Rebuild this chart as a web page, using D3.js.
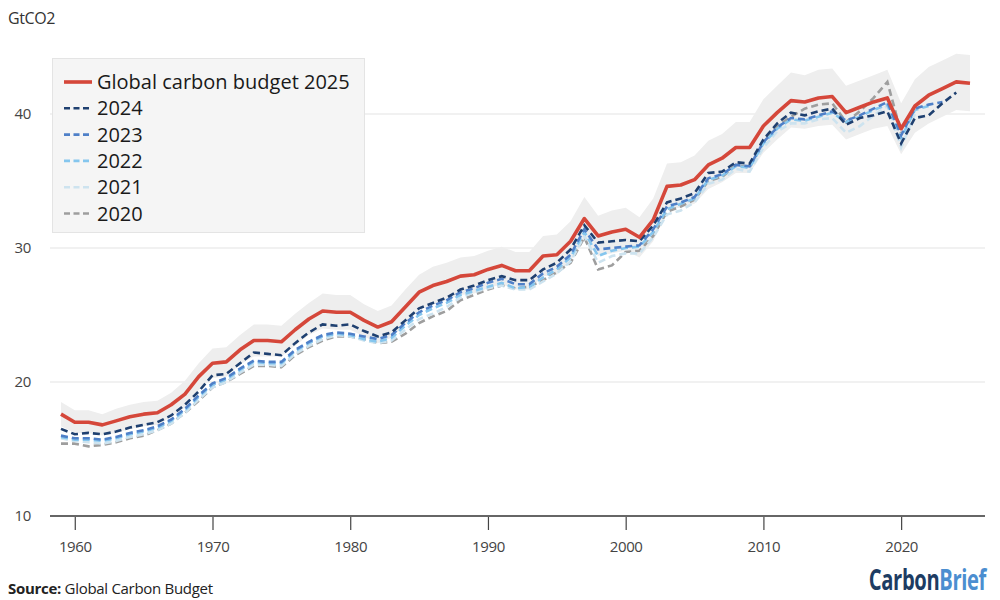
<!DOCTYPE html>
<html>
<head>
<meta charset="utf-8">
<style>
  body { margin: 0; background: #fff; }
  svg { display: block; font-family: "Open Sans", sans-serif; }
</style>
</head>
<body>
<svg width="1000" height="600"></svg>
<script src="https://cdn.jsdelivr.net/npm/d3@7.9.0/dist/d3.min.js"></script>
<script>
// years on the x axis, 1959 -> 2025
const years = d3.range(1959, 2026);
const xTicks = [1960, 1970, 1980, 1990, 2000, 2010, 2020];
const yTicks = [10, 20, 30, 40];

// GtCO2
const gcb2025 = [17.6,
  17.0, 17.0, 16.8, 17.1, 17.4, 17.6, 17.7, 18.3, 19.1, 20.4,
  21.4, 21.5, 22.4, 23.1, 23.1, 23.0, 23.9, 24.7, 25.3, 25.2,
  25.2, 24.6, 24.1, 24.5, 25.6, 26.7, 27.2, 27.5, 27.9, 28.0,
  28.4, 28.7, 28.3, 28.3, 29.4, 29.5, 30.5, 32.2, 30.9, 31.2,
  31.4, 30.8, 32.1, 34.6, 34.7, 35.1, 36.2, 36.7, 37.5, 37.5,
  39.1, 40.1, 41.0, 40.9, 41.2, 41.3, 40.1, 40.5, 40.9, 41.2,
  38.9, 40.6, 41.4, 41.9, 42.4, 42.3];

// uncertainty band round the 2025 figures
const bandHigh = [18.5,
  17.9, 17.9, 17.6, 18.0, 18.3, 18.5, 18.6, 19.2, 20.1, 21.4,
  22.5, 22.6, 23.5, 24.3, 24.3, 24.2, 25.1, 25.9, 26.6, 26.5,
  26.5, 25.8, 25.3, 25.7, 26.9, 28.0, 28.6, 28.9, 29.3, 29.4,
  29.8, 30.1, 29.7, 29.7, 30.9, 31.0, 32.0, 33.8, 32.4, 32.8,
  33.0, 32.3, 33.7, 36.3, 36.4, 36.9, 38.0, 38.5, 39.4, 39.4,
  41.1, 42.1, 43.1, 42.9, 43.3, 43.4, 42.1, 42.5, 42.9, 43.3,
  40.8, 42.6, 43.5, 44.0, 44.5, 44.4];
const bandLow = [16.7,
  16.2, 16.2, 16.0, 16.2, 16.5, 16.7, 16.8, 17.4, 18.1, 19.4,
  20.3, 20.4, 21.3, 21.9, 21.9, 21.9, 22.7, 23.5, 24.0, 23.9,
  23.9, 23.4, 22.9, 23.3, 24.3, 25.4, 25.8, 26.1, 26.5, 26.6,
  27.0, 27.3, 26.9, 26.9, 27.9, 28.0, 29.0, 30.6, 29.4, 29.6,
  29.8, 29.3, 30.5, 32.9, 33.0, 33.3, 34.4, 34.9, 35.6, 35.6,
  37.1, 38.1, 39.0, 38.9, 39.1, 39.2, 38.1, 38.5, 38.9, 39.1,
  37.0, 38.6, 39.3, 39.8, 40.3, 40.2];

// earlier editions, each ends at its own year
const gcb2024 = [16.5,
  16.1, 16.2, 16.1, 16.3, 16.6, 16.8, 17.0, 17.5, 18.3, 19.3,
  20.5, 20.6, 21.4, 22.2, 22.1, 22.0, 22.9, 23.7, 24.3, 24.2,
  24.3, 23.8, 23.4, 23.7, 24.6, 25.5, 25.9, 26.3, 26.9, 27.2,
  27.6, 27.9, 27.6, 27.6, 28.4, 28.9, 29.9, 31.7, 30.4, 30.5,
  30.6, 30.5, 31.7, 33.4, 33.7, 34.1, 35.6, 35.7, 36.4, 36.3,
  38.1, 39.3, 40.1, 39.9, 40.2, 40.4, 39.2, 39.7, 39.9, 40.2,
  37.8, 39.7, 39.9, 40.8, 41.6];
const gcb2023 = [16.0,
  15.8, 15.8, 15.7, 15.9, 16.2, 16.4, 16.7, 17.2, 18.0, 19.0,
  19.9, 20.3, 21.0, 21.6, 21.5, 21.5, 22.4, 23.0, 23.5, 23.7,
  23.6, 23.4, 23.2, 23.5, 24.4, 25.2, 25.7, 26.1, 26.7, 27.0,
  27.4, 27.7, 27.3, 27.3, 28.1, 28.6, 29.5, 31.4, 29.9, 30.0,
  30.1, 30.2, 31.4, 33.1, 33.4, 33.8, 35.2, 35.5, 36.2, 36.1,
  37.9, 39.0, 39.7, 39.6, 39.9, 40.2, 39.5, 39.9, 40.4, 40.9,
  38.4, 40.4, 40.7, 40.9];
const gcb2022 = [15.9,
  15.7, 15.7, 15.6, 15.8, 16.1, 16.3, 16.6, 17.1, 17.9, 18.9,
  19.8, 20.2, 20.9, 21.5, 21.4, 21.4, 22.3, 22.9, 23.4, 23.6,
  23.5, 23.2, 23.0, 23.3, 24.2, 25.0, 25.5, 25.9, 26.5, 26.8,
  27.1, 27.4, 27.0, 27.1, 27.8, 28.4, 29.3, 31.2, 29.4, 29.8,
  30.0, 30.1, 31.2, 32.9, 33.3, 33.7, 35.1, 35.4, 36.1, 36.0,
  37.8, 38.9, 39.6, 39.5, 39.8, 40.1, 39.4, 39.8, 40.3, 40.7,
  38.2, 40.3, 40.6];
const gcb2021 = [15.8,
  15.6, 15.5, 15.4, 15.6, 15.9, 16.1, 16.4, 16.9, 17.7, 18.7,
  19.6, 20.0, 20.7, 21.3, 21.3, 21.2, 22.1, 22.7, 23.2, 23.5,
  23.4, 23.1, 22.9, 23.1, 23.9, 24.7, 25.1, 25.6, 26.3, 26.7,
  27.0, 27.2, 26.9, 26.9, 27.5, 28.1, 29.0, 30.9, 28.9, 29.4,
  29.6, 29.6, 30.8, 32.5, 32.8, 33.4, 34.8, 35.1, 35.9, 35.7,
  37.5, 38.7, 39.3, 39.3, 39.6, 39.7, 38.6, 39.1, 39.9, 40.6,
  37.5, 40.0];
const gcb2020 = [15.4,
  15.4, 15.2, 15.3, 15.5, 15.8, 16.0, 16.4, 16.9, 17.7, 18.6,
  19.6, 20.0, 20.6, 21.2, 21.2, 21.1, 22.0, 22.6, 23.1, 23.4,
  23.4, 23.2, 22.9, 23.0, 23.6, 24.4, 24.9, 25.3, 26.1, 26.5,
  26.9, 27.2, 27.0, 27.1, 27.6, 28.2, 28.9, 30.8, 28.4, 28.7,
  29.7, 29.8, 30.9, 32.7, 33.1, 33.6, 35.0, 35.3, 36.2, 36.0,
  38.0, 39.1, 39.8, 40.4, 40.7, 40.8, 39.4, 40.2, 41.2, 42.4,
  38.6];

const legendLabels = ['Global carbon budget 2025', '2024', '2023', '2022', '2021', '2020'];
const legendColors = ['#d5473a', '#1f4070', '#4f80c8', '#85c6ee', '#cde3ef', '#9e9e9e'];

const svg = d3.select('svg');

let x = d3.scaleLinear().domain([1959, 2025]).range([61, 970]);
let y = d3.scaleLinear().domain([10, 45]).range([516, 47]);

// gridlines
svg.append('g')
  .selectAll('line')
  .data(yTicks.filter(d => d > 10))
  .join('line')
  .attr('x1', 50).attr('x2', 985)
  .attr('y1', d => y(d)).attr('y2', d => y(d))
  .attr('stroke', '#e3e3e3').attr('stroke-width', 1);

// y labels
svg.append('g')
  .selectAll('text')
  .data(yTicks)
  .join('text')
  .attr('x', 31).attr('y', d => y(d))
  .attr('dy', '0.35em')
  .attr('text-anchor', 'end')
  .attr('font-size', 15)
  .attr('letter-spacing', -0.3)
  .attr('fill', '#444')
  .text(d => d);

// uncertainty band
let area = d3.area()
  .x((d, i) => x(years[i]))
  .y0((d, i) => y(bandLow[i]))
  .y1(d => y(d));
svg.append('path')
  .attr('d', area(bandHigh))
  .attr('fill', '#eeeeee');

// older editions, oldest drawn first
let line = d3.line().x((d, i) => x(years[i])).y(d => y(d));
let dashed = [gcb2020, gcb2021, gcb2022, gcb2023, gcb2024];
let dashedColors = [legendColors[5], legendColors[4], legendColors[3], legendColors[2], legendColors[1]];
dashed.forEach((series, idx) => {
  svg.append('path')
    .attr('d', line(series))
    .attr('fill', 'none')
    .attr('stroke', dashedColors[idx])
    .attr('stroke-width', 2.6)
    .attr('stroke-dasharray', '7,4');
});

svg.append('path')
  .attr('d', line(gcb2025))
  .attr('fill', 'none')
  .attr('stroke', legendColors[0])
  .attr('stroke-width', 3.6)
  .attr('stroke-linejoin', 'round');

// x axis
let xAxis = d3.axisBottom(x)
  .tickValues(xTicks)
  .tickFormat(d3.format('d'))
  .tickSize(14)
  .tickPadding(11);
let gx = svg.append('g')
  .attr('transform', 'translate(0,516)')
  .call(xAxis);
gx.attr('font-family', null);
gx.select('.domain').remove();
gx.selectAll('.tick line').attr('stroke', '#444').attr('stroke-width', 1.2);
gx.selectAll('.tick text')
  .attr('font-size', 15)
  .attr('letter-spacing', -0.4)
  .attr('fill', '#444');
svg.append('line')
  .attr('x1', 50).attr('x2', 985)
  .attr('y1', 516).attr('y2', 516)
  .attr('stroke', '#666').attr('stroke-width', 2);

// legend
let legend = svg.append('g');
legend.append('rect')
  .attr('x', 52.5).attr('y', 58.5)
  .attr('width', 312).attr('height', 174)
  .attr('fill', '#f5f5f5')
  .attr('stroke', '#e4e4e4');
legendLabels.forEach((label, idx) => {
  let cy = 82 + idx * 26.3;
  legend.append('line')
    .attr('x1', 64).attr('x2', 92)
    .attr('y1', cy).attr('y2', cy)
    .attr('stroke', legendColors[idx])
    .attr('stroke-width', idx == 0 ? 3.6 : 2.6)
    .attr('stroke-dasharray', idx == 0 ? null : '6,3.5');
  legend.append('text')
    .attr('x', 97).attr('y', cy)
    .attr('dy', '0.35em')
    .attr('font-size', 20)
    .attr('fill', '#1a1a1a')
    .text(label);
});

// unit label, source, logo
svg.append('text')
  .attr('x', 8).attr('y', 24)
  .attr('font-size', 16)
  .attr('letter-spacing', -0.4)
  .attr('fill', '#333')
  .text('GtCO2');

let src = svg.append('text')
  .attr('x', 8).attr('y', 594)
  .attr('font-size', 15)
  .attr('letter-spacing', -0.3)
  .attr('fill', '#222');
src.append('tspan').attr('font-weight', 'bold').text('Source:');
src.append('tspan').text(' Global Carbon Budget');

let logo = svg.append('text')
  .attr('transform', 'translate(986,590) scale(0.72,1)')
  .attr('text-anchor', 'end')
  .attr('font-size', 28)
  .attr('font-weight', 'bold')
  .attr('letter-spacing', -0.5);
logo.append('tspan').attr('fill', '#1d3c63').text('Carbon');
logo.append('tspan').attr('fill', '#4b8ed0').text('Brief');
</script>
</body>
</html>
